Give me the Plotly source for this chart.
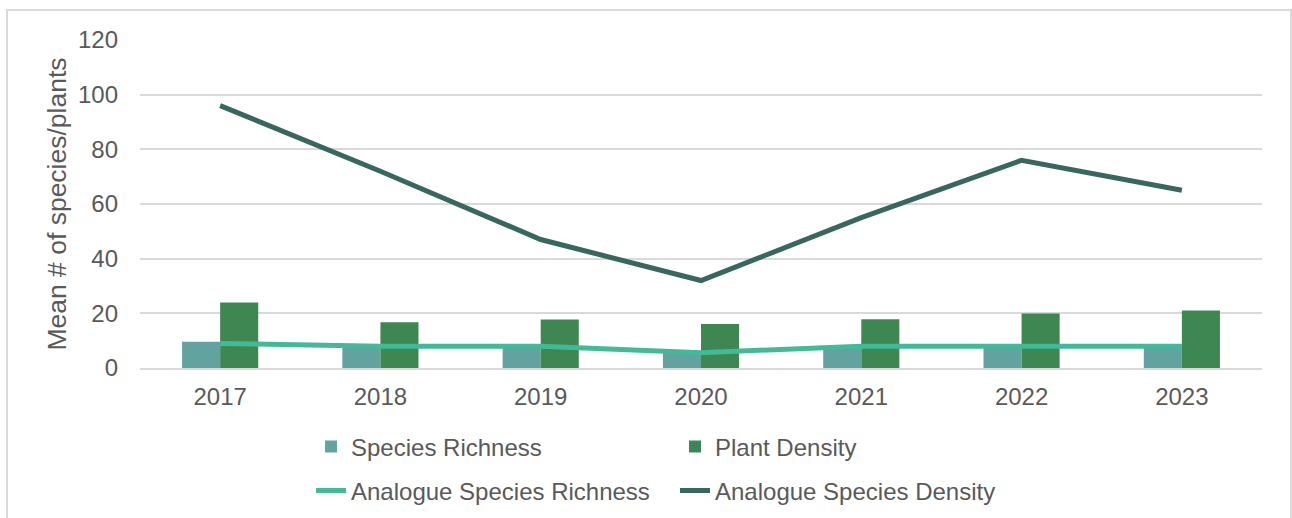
import plotly.graph_objects as go

# Survey years
years = ["2017", "2018", "2019", "2020", "2021", "2022", "2023"]

# Restored site means
species_richness = [9.6, 8, 8, 6, 8, 8, 8]
plant_density = [24, 16.7, 17.7, 16.1, 17.8, 19.9, 21]

# Analogue (reference) site means
analogue_richness = [9, 8, 8, 5.6, 8, 8, 8]
analogue_density = [96, 72, 47, 32, 55, 76, 65]

y_ticks = [0, 20, 40, 60, 80, 100, 120]

FONT = "Liberation Sans, Arial, sans-serif"
TEXT = "#595959"
GRID = "#d9d9d9"
W, H = 1292, 518

fig = go.Figure()

fig.add_trace(go.Bar(
    x=years, y=species_richness, name="Species Richness",
    marker=dict(color="#62A39F", line=dict(width=0)),
    legend="legend",
))
fig.add_trace(go.Bar(
    x=years, y=plant_density, name="Plant Density",
    marker=dict(color="#3F8752", line=dict(width=0)),
    legend="legend",
))
fig.add_trace(go.Scatter(
    x=years, y=analogue_richness, name="Analogue Species Richness",
    mode="lines", line=dict(color="#43BA97", width=5),
    legend="legend2",
))
fig.add_trace(go.Scatter(
    x=years, y=analogue_density, name="Analogue Species Density",
    mode="lines", line=dict(color="#37675F", width=5),
    legend="legend2",
))

legend_common = dict(
    orientation="h", xanchor="left", yanchor="middle",
    xref="container", yref="container",
    font=dict(family=FONT, size=24, color=TEXT),
    entrywidth=319, entrywidthmode="pixels",
    bgcolor="rgba(0,0,0,0)", tracegroupgap=0,
)

fig.update_layout(
    width=W, height=H,
    margin=dict(l=140, r=30, t=40, b=150, autoexpand=False),
    paper_bgcolor="white", plot_bgcolor="white",
    barmode="group", bargap=0.525, bargroupgap=0,
    font=dict(family=FONT, size=24, color=TEXT),
    showlegend=True,
    legend=dict(x=311 / W, y=1 - 447 / H, **legend_common),
    legend2=dict(x=311 / W, y=1 - 491 / H, **legend_common),
    xaxis=dict(
        type="category", showgrid=False, showline=True, linecolor=GRID, linewidth=2,
        ticks="", tickfont=dict(size=24, color=TEXT), ticklabelstandoff=6,
    ),
    yaxis=dict(
        range=[0, 120], tickvals=y_ticks, showgrid=True, gridcolor=GRID, gridwidth=2,
        zeroline=False, showline=False, ticks="",
        tickfont=dict(size=24, color=TEXT), ticklabelstandoff=21,
        title=dict(text="Mean # of species/plants", font=dict(size=26.5, color=TEXT), standoff=3),
    ),
    shapes=[dict(
        type="rect", xref="paper", yref="paper",
        x0=(7 - 140) / 1122, x1=(1291 - 140) / 1122,
        y0=(368 - 540) / 328, y1=(368 - 10) / 328,
        line=dict(color=GRID, width=2), fillcolor="rgba(0,0,0,0)", layer="below",
    )],
)

fig.write_html("out.html")
